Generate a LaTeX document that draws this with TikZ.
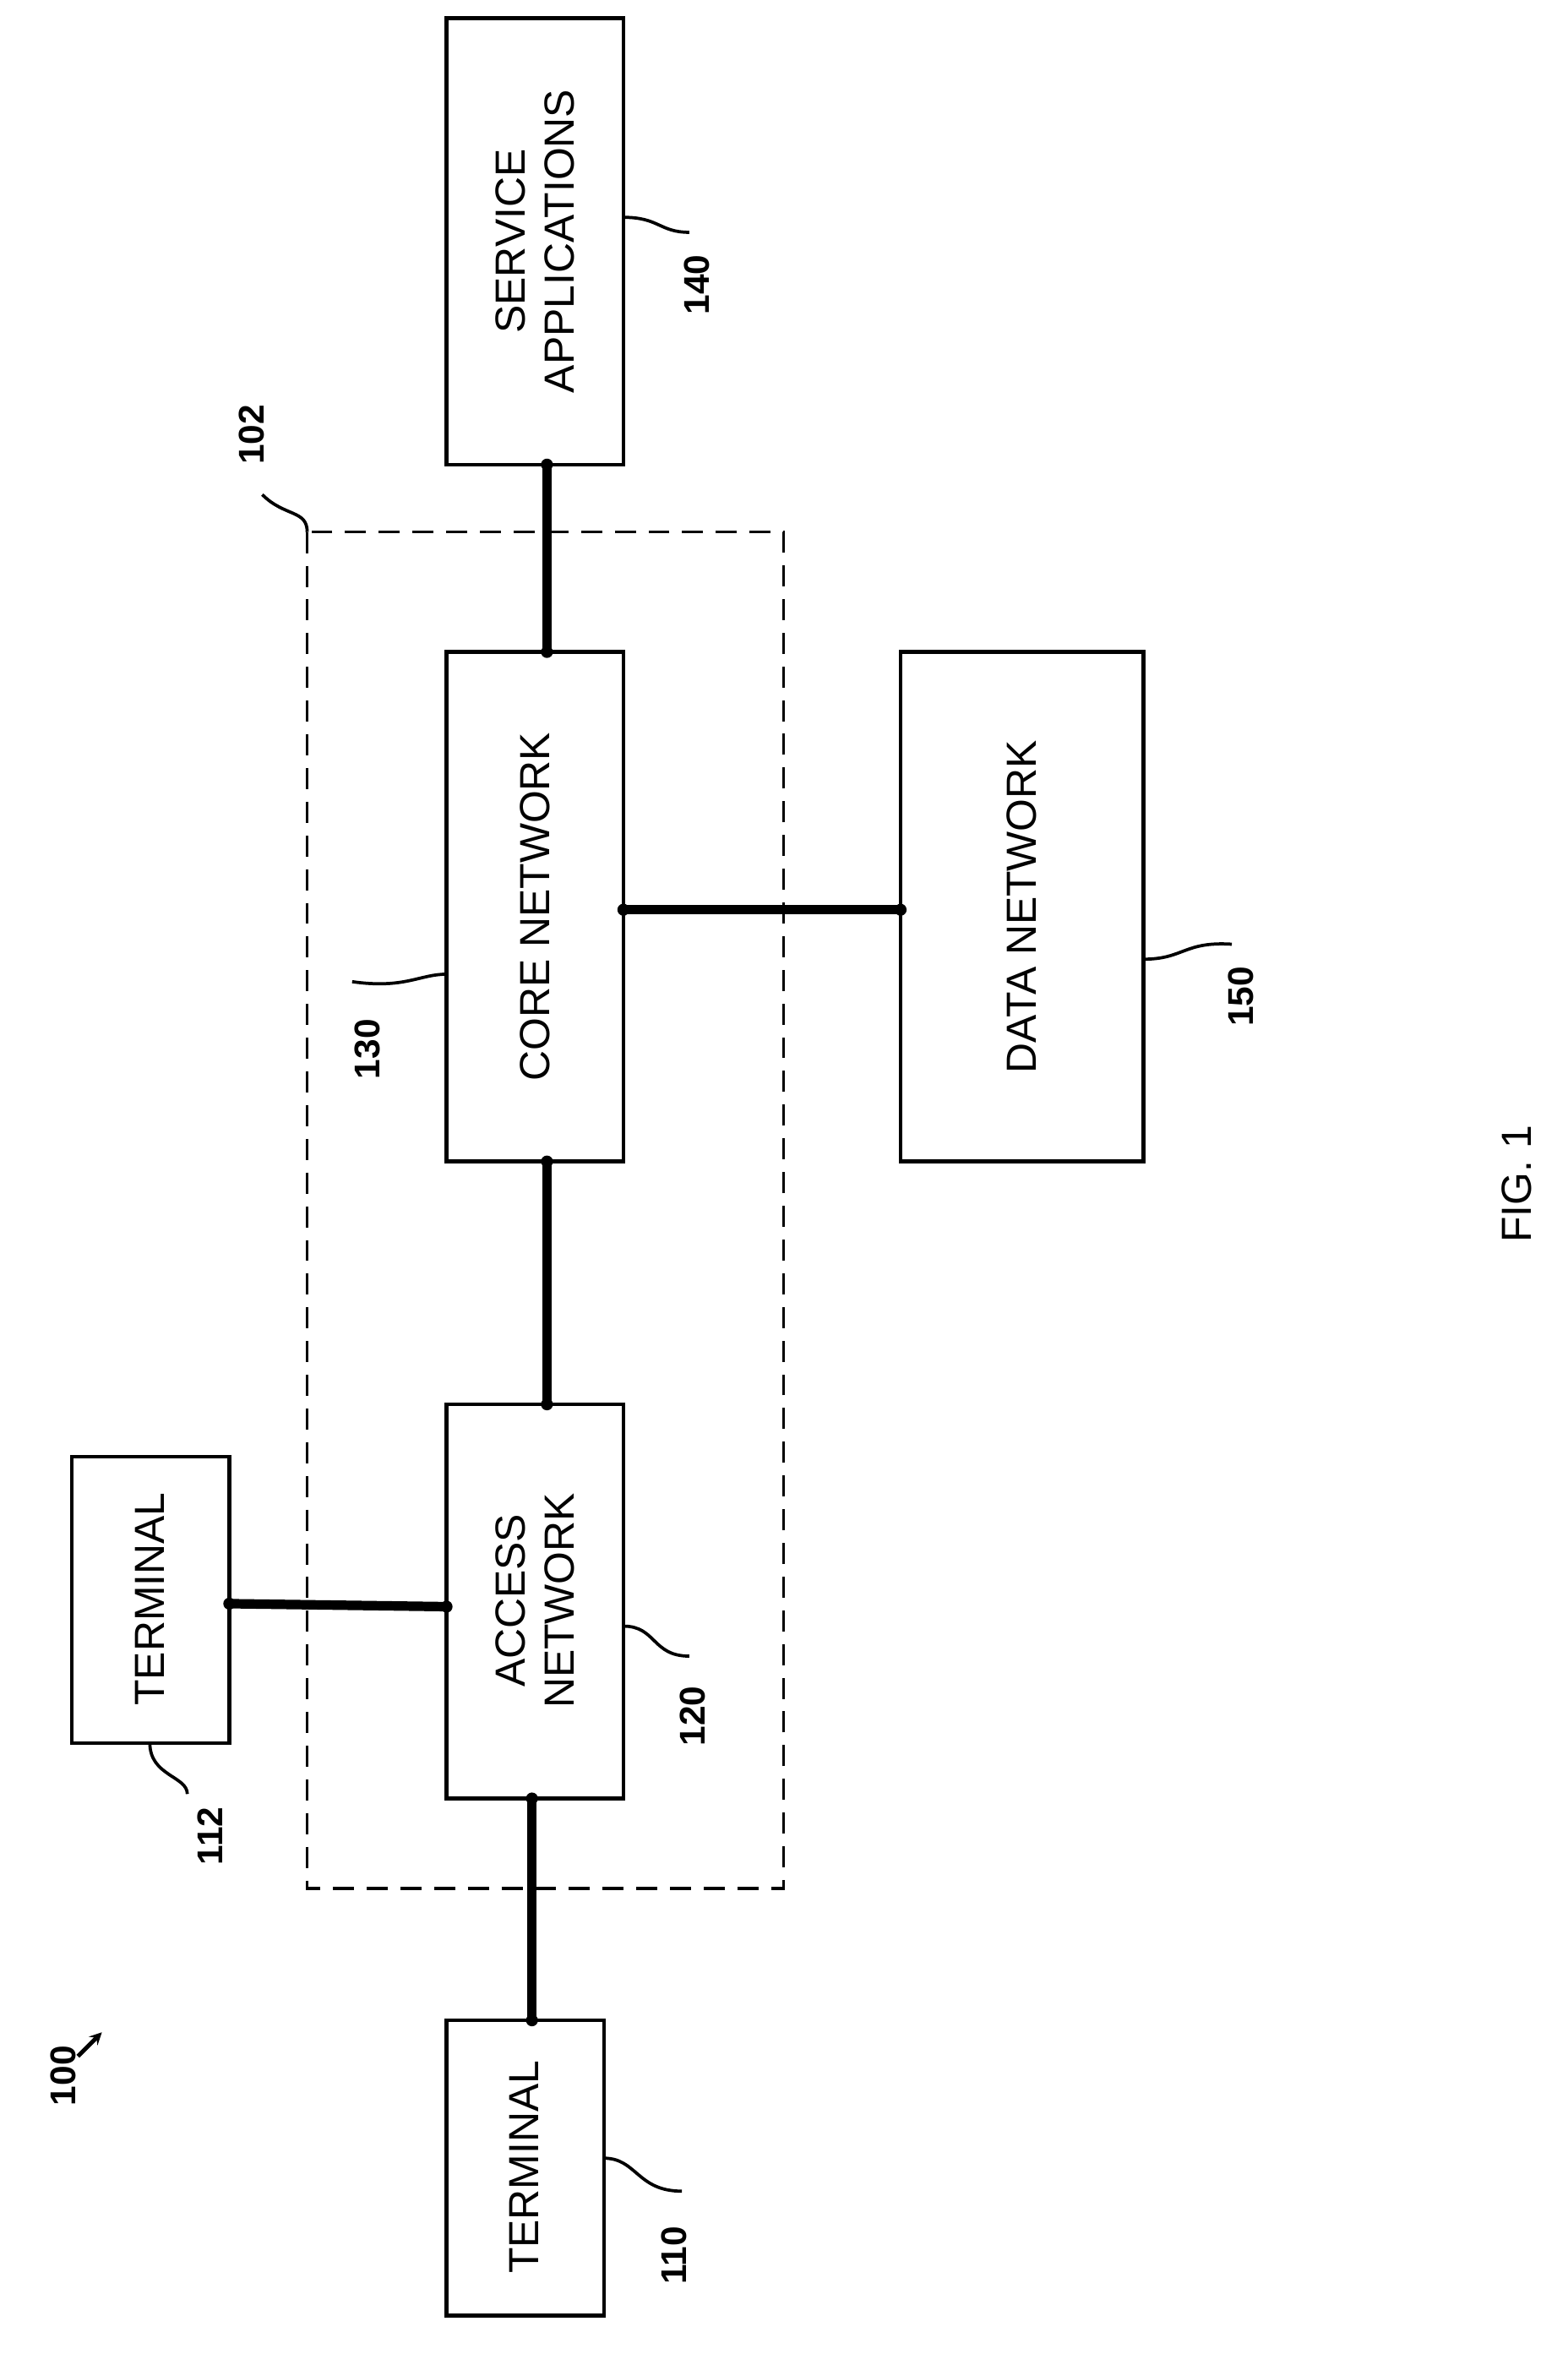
\documentclass[tikz,border=0pt]{standalone}
\usepackage{fontspec}
\setmainfont{Liberation Sans}
\begin{document}
\begin{tikzpicture}[x=0.05cm,y=-0.05cm,
 box/.style={draw,line width=3.6pt},
 txt/.style={font=\fontsize{40}{46}\selectfont,align=center,rotate=90},
 lbl/.style={font=\fontsize{34}{38}\selectfont\bfseries,rotate=90},
 conn/.style={line width=9pt},
 lead/.style={line width=3pt}]
\useasboundingbox (0,0) rectangle (1046,1578);
\draw[box] (298,1348) rectangle (403,1545);
\draw[box] (48,972) rectangle (153,1163);
\draw[box] (298,937) rectangle (416,1200);
\draw[box] (298,435) rectangle (416,775);
\draw[box] (298,12) rectangle (416,310);
\draw[box] (601,435) rectangle (763,775);
\draw[line width=2.8pt,dash pattern=on 20pt off 12pt] (205,355) rectangle (523,1260);
\node[txt] (t110) at (350,1446) {TERMINAL};
\node[txt] (t112) at (100,1067) {TERMINAL};
\node[txt] (an) at (357,1068) {ACCESS\\NETWORK};
\node[txt] (cn) at (357,605) {CORE NETWORK};
\node[txt] (sa) at (357,161) {SERVICE\\APPLICATIONS};
\node[txt] (dn) at (682,605) {DATA NETWORK};
\node[font=\fontsize{40}{46}\selectfont,rotate=90] (fig) at (1012,790) {FIG. 1};
\coordinate (a1) at (355,1348); \coordinate (a2) at (355,1200);
\coordinate (b1) at (153,1070); \coordinate (b2) at (298,1072);
\coordinate (c1) at (365,937); \coordinate (c2) at (365,775);
\coordinate (d1) at (365,435); \coordinate (d2) at (365,310);
\coordinate (e1) at (416,607); \coordinate (e2) at (601,607);
\foreach \p/\q in {a1/a2,b1/b2,c1/c2,d1/d2,e1/e2}{
 \draw[conn] (\p) -- (\q); \fill (\p) circle (4); \fill (\q) circle (4);}
\node[lbl] (l100) at (42,1385) {100};
\draw[line width=4pt,-stealth] (52,1372) -- (68,1356);
\node[lbl] (l110) at (450,1505) {110};
\draw[lead] (403,1440) .. controls (425,1440) and (425,1462) .. (455,1462);
\node[lbl] (l112) at (140,1225) {112};
\draw[lead] (100,1163) .. controls (100,1185) and (125,1185) .. (125,1197);
\node[lbl] (l120) at (462,1145) {120};
\draw[lead] (416,1085) .. controls (438,1085) and (435,1105) .. (460,1105);
\node[lbl] (l130) at (245,700) {130};
\draw[lead] (298,650) .. controls (280,650) and (270,660) .. (235,655);
\node[lbl] (l140) at (465,190) {140};
\draw[lead] (416,145) .. controls (440,145) and (440,155) .. (460,155);
\node[lbl] (l150) at (828,665) {150};
\draw[lead] (763,640) .. controls (790,640) and (790,628) .. (822,630);
\node[lbl] (l102) at (168,290) {102};
\draw[lead] (205,355) .. controls (205,340) and (190,345) .. (175,330);
\end{tikzpicture}
\end{document}
